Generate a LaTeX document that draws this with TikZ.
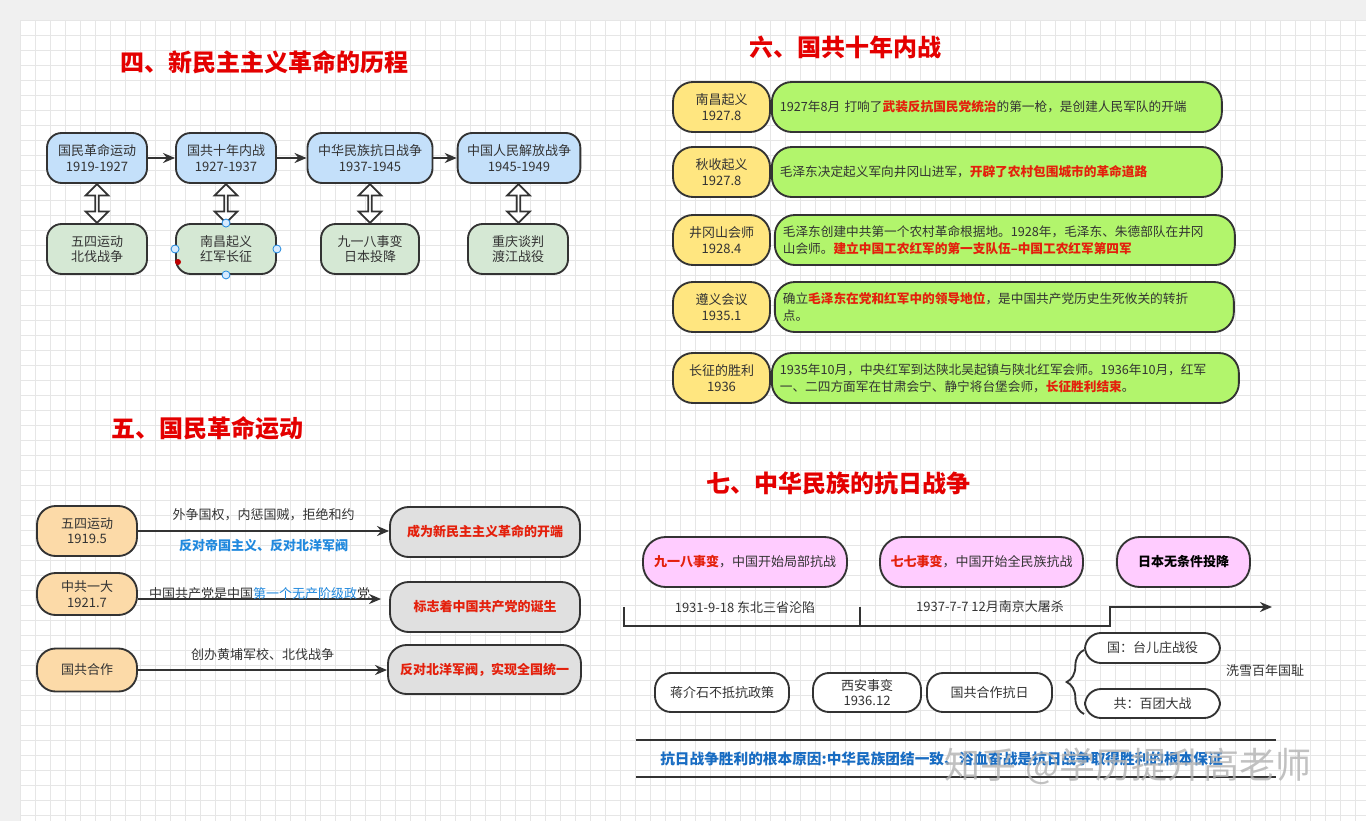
\documentclass[tikz,border=0pt]{standalone}
\usepackage{fontspec}
\setmainfont{Noto Sans CJK SC}
\usepackage{xcolor}
\usetikzlibrary{arrows.meta, positioning, calc, shapes.arrows, decorations.pathreplacing}
\definecolor{canvasgray}{RGB}{240,240,240}
\definecolor{gridgray}{RGB}{230,230,230}
\definecolor{inkgray}{RGB}{51,51,51}
\definecolor{titlered}{RGB}{228,0,0}
\definecolor{hotred}{RGB}{228,32,12}
\definecolor{linkblue}{RGB}{33,137,222}
\definecolor{deepblue}{RGB}{24,108,194}
\definecolor{periodblue}{RGB}{196,224,250}
\definecolor{eventgreen}{RGB}{213,232,212}
\definecolor{peach}{RGB}{252,218,168}
\definecolor{resultgray}{RGB}{224,224,224}
\definecolor{dateyellow}{RGB}{255,230,128}
\definecolor{limegreen}{RGB}{178,245,108}
\definecolor{warpink}{RGB}{255,204,255}
\definecolor{handleblue}{RGB}{215,235,255}
\newcommand{\redbf}[1]{\textcolor{hotred}{\bfseries #1}}
\newcommand{\bluebf}[1]{\textcolor{linkblue}{\bfseries #1}}

\begin{document}
\begin{tikzpicture}[
    x=0.75pt, y=-0.75pt,
    box/.style={rectangle, draw=inkgray, line width=1.4pt, rounded corners=11pt, align=center, text=inkgray, font=\fontsize{9.75}{11.5}\selectfont, inner sep=0pt},
    periodbox/.style={box, fill=periodblue, minimum height=37.5pt},
    eventbox/.style={box, fill=eventgreen, minimum height=37.5pt},
    causebox/.style={box, fill=peach, minimum width=75pt, rounded corners=14pt},
    resultbox/.style={box, fill=resultgray, minimum width=142.5pt, minimum height=37.5pt, rounded corners=14pt, text=hotred, font=\fontsize{9.75}{12}\selectfont\bfseries},
    datebox/.style={box, fill=dateyellow, minimum width=72.75pt, minimum height=37.5pt, rounded corners=15pt, font=\fontsize{9.75}{12}\selectfont},
    detailbox/.style={box, fill=limegreen, minimum height=37.5pt, rounded corners=15pt, align=left, inner xsep=6pt, font=\fontsize{9.5}{12.75}\selectfont},
    warbox/.style={box, fill=warpink, minimum height=37.5pt, rounded corners=17pt},
    plainbox/.style={box, fill=white, rounded corners=12pt},
    secttitle/.style={text=titlered, font=\fontsize{18}{20}\selectfont\bfseries},
    lbl/.style={text=inkgray, inner sep=0pt, font=\fontsize{9.75}{12}\selectfont},
    arr/.style={-{Stealth[length=9pt,width=7.5pt]}, line width=1.4pt, draw=inkgray},
    twoway/.style={shape=double arrow, rotate=90, draw=inkgray, fill=white, line width=1.3pt, minimum height=29pt, minimum width=17pt, double arrow head extend=3.5pt, inner sep=0pt},
    handle/.style={circle, draw=linkblue, fill=handleblue, line width=0.6pt, minimum size=6pt, inner sep=0pt},
    gridline/.style={draw=gridgray, line width=0.5pt}
]
    % canvas
    \useasboundingbox (0,0) rectangle (1366,821);
    \fill[canvasgray] (0,0) rectangle (1366,821);
    \fill[white] (20,20) rectangle (1366,821);
    \foreach \gx in {20,35,...,1366} \draw[gridline] (\gx,20) -- (\gx,821);
    \foreach \gy in {20,35,...,821} \draw[gridline] (20,\gy) -- (1366,\gy);

    % ---- part 4 ----
    \node[secttitle] (t4) at (264,62) {四、新民主主义革命的历程};
    \node[periodbox, minimum width=75pt] (b1) at (97,158) {国民革命运动\\1919-1927};
    \node[periodbox, minimum width=75pt] (b2) at (226,158) {国共十年内战\\1927-1937};
    \node[periodbox, minimum width=93.75pt] (b3) at (370,158) {中华民族抗日战争\\1937-1945};
    \node[periodbox, minimum width=92pt] (b4) at (519,158) {中国人民解放战争\\1945-1949};
    \node[eventbox, minimum width=75pt] (g1) at (97,249) {五四运动\\北伐战争};
    \node[eventbox, minimum width=75pt] (g2) at (226,249) {南昌起义\\红军长征};
    \node[eventbox, minimum width=73.5pt] (g3) at (370,249) {九一八事变\\日本投降};
    \node[eventbox, minimum width=75pt] (g4) at (518,249) {重庆谈判\\渡江战役};

    \draw[arr] (b1) -- (b2);
    \draw[arr] (b2) -- (b3);
    \draw[arr] (b3) -- (b4);
    \foreach \i in {1,...,4}
        \node[twoway] (d\i) at ($(b\i.south)!0.5!(g\i.north)$) {};

    % selection handles
    \node[handle] (h1) at (g2.west) {};
    \node[handle] (h2) at (g2.east) {};
    \node[handle] (h3) at (g2.north) {};
    \node[handle] (h4) at (g2.south) {};
    \node[circle, fill=red!75!black, minimum size=4.5pt, inner sep=0pt] (h5) at (178,262) {};

    % ---- part 5 ----
    \node[secttitle] (t5) at (207,428) {五、国民革命运动};
    \node[causebox, minimum height=37.5pt] (o1) at (87,531) {五四运动\\1919.5};
    \node[causebox, minimum height=31.5pt] (o2) at (87,594) {中共一大\\1921.7};
    \node[causebox, minimum height=32.25pt] (o3) at (87,670) {国共合作};
    \node[resultbox] (r1) at (485,532) {成为新民主主义革命的开端};
    \node[resultbox] (r2) at (485,607) {标志着中国共产党的诞生};
    \node[resultbox, minimum width=144.75pt, minimum height=36.75pt] (r3) at (484.5,669.5) {反对北洋军阀，实现全国统一};

    \draw[arr] (o1.east) -- (o1.east -| r1.west)
        node[lbl, midway, above=7pt] {外争国权，内惩国贼，拒绝和约}
        node[lbl, midway, below=5.5pt] {\bluebf{反对帝国主义、反对北洋军阀}};
    \draw[arr] ([yshift=-3.75pt]o2.east) -- ([yshift=-3.75pt, xshift=-6pt]o2.east -| r2.west)
        node[lbl, midway, yshift=3.75pt] {中国共产党是中国\textcolor{linkblue}{第一个无产阶级政}党};
    \draw[arr] (o3.east) -- (o3.east -| r3.west)
        node[lbl, midway, above=6pt] {创办黄埔军校、北伐战争};

    % ---- part 6 ----
    \node[secttitle] (t6) at (845,47) {六、国共十年内战};
    \node[datebox] (y1) at (721.5,107) {南昌起义\\1927.8};
    \node[datebox] (y2) at (721.5,172) {秋收起义\\1927.8};
    \node[datebox] (y3) at (721.5,240) {井冈山会师\\1928.4};
    \node[datebox] (y4) at (721.5,307) {遵义会议\\1935.1};
    \node[datebox] (y5) at (721.5,378) {长征的胜利\\1936};
    \node[detailbox, text width=325.5pt, right=0pt of y1] (l1)
        {1927年8月 打响了\redbf{武装反抗国民党统治}的第一枪，是创建人民军队的开端};
    \node[detailbox, text width=325.5pt, right=0pt of y2] (l2)
        {毛泽东决定起义军向井冈山进军，\redbf{开辟了农村包围城市的革命道路}};
    \node[detailbox, text width=333pt, right=2.25pt of y3] (l3)
        {毛泽东创建中共第一个农村革命根据地。1928年，毛泽东、朱德部队在井冈\\山会师。\redbf{建立中国工农红军的第一支队伍--中国工农红军第四军}};
    \node[detailbox, text width=332.25pt, right=2.25pt of y4] (l4)
        {确立\redbf{毛泽东在党和红军中的领导地位}，是中国共产党历史生死攸关的转折\\点。};
    \node[detailbox, text width=338.25pt, right=0pt of y5] (l5)
        {1935年10月，中央红军到达陕北吴起镇与陕北红军会师。1936年10月，红军\\一、二四方面军在甘肃会宁、静宁将台堡会师，\redbf{长征胜利结束}。};

    % ---- part 7 ----
    \node[secttitle] (t7) at (838,483) {七、中华民族的抗日战争};
    \node[warbox, minimum width=153pt] (p1) at (745,562) {\redbf{九一八事变}，中国开始局部抗战};
    \node[warbox, minimum width=152.25pt] (p2) at (981.5,562) {\redbf{七七事变}，中国开始全民族抗战};
    \node[warbox, minimum width=99.75pt] (p3) at (1183.5,562) {\textcolor{black}{\bfseries 日本无条件投降}};

    \coordinate (k0) at (624,607);
    \coordinate (k1) at (624,626);
    \coordinate (k2) at (860,607);
    \coordinate (k3) at (860,626);
    \coordinate (k4) at (1110,626);
    \coordinate (k5) at (1110,607);
    \coordinate (k6) at (1272,607);
    \draw[arr] (k0) -- (k1) -- (k4) -- (k5) -- (k6);
    \draw[line width=1.4pt, draw=inkgray] (k2) -- (k3);
    \node[lbl] (s1) at (745,607) {1931-9-18 东北三省沦陷};
    \node[lbl] (s2) at (990,607) {1937-7-7 12月南京大屠杀};

    \node[plainbox, minimum width=100.5pt, minimum height=29.25pt] (w1) at (722,692.5) {蒋介石不抵抗政策};
    \node[plainbox, minimum width=81pt, minimum height=29.25pt] (w2) at (867,692.5) {西安事变\\1936.12};
    \node[plainbox, minimum width=93.75pt, minimum height=29.25pt] (w3) at (989.5,692.5) {国共合作抗日};
    \coordinate (bb) at (1084,714);
    \coordinate (bt) at (1084,650);
    \draw[line width=1.4pt, draw=inkgray, decorate, decoration={brace, amplitude=13pt}] (bb) -- (bt);
    \node[plainbox, minimum width=101.25pt, minimum height=22.5pt] (q1) at (1152.5,648) {国：台儿庄战役};
    \node[plainbox, minimum width=101.25pt, minimum height=21.75pt] (q2) at (1152.5,703.5) {共：百团大战};
    \node[lbl] (xx) at (1265,671) {洗雪百年国耻};

    \coordinate (u0) at (636,740);
    \coordinate (u1) at (1276,740);
    \coordinate (u2) at (636,777);
    \coordinate (u3) at (1276,777);
    \draw[line width=1.4pt, draw=inkgray] (u0) -- (u1);
    \draw[line width=1.4pt, draw=inkgray] (u2) -- (u3);
    \node[anchor=west, inner sep=0pt, text=deepblue, font=\fontsize{11}{12}\selectfont\bfseries] (why) at (660,759)
        {抗日战争胜利的根本原因:中华民族团结一致、浴血奋战是抗日战争取得胜利的根本保证};

    \node[text=black!30, opacity=0.8, font=\fontsize{27}{30}\selectfont] (wm) at (1128,766) {知乎 @学历提升高老师};
\end{tikzpicture}
\end{document}
